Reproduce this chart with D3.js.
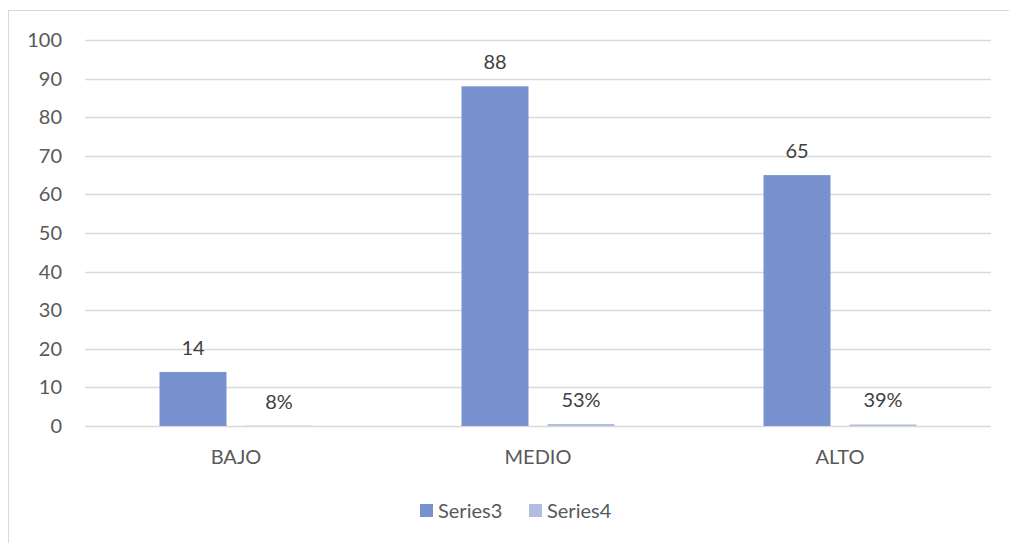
<!DOCTYPE html>
<html>
<head>
<meta charset="utf-8">
<script src="https://cdn.jsdelivr.net/npm/d3@7"></script>
<style>
  html, body { margin: 0; padding: 0; background: #fff; }
  svg { display: block; }
  text { font-family: Lato, "Open Sans", sans-serif; }
</style>
</head>
<body>
<svg id="chart" width="1009" height="543"></svg>
<script>
// Chart data
const categories = ["BAJO", "MEDIO", "ALTO"];
const series3 = [14, 88, 65];
const series4 = [0.08, 0.53, 0.39];
const series4Labels = ["8%", "53%", "39%"];
const yTicks = [0, 10, 20, 30, 40, 50, 60, 70, 80, 90, 100];
const seriesNames = ["Series3", "Series4"];
const colors = ["#7892d0", "#b1bde3"];

const svg = d3.select("#chart");
const W = 1009, H = 543;
const FS = 20;

// Outer chart frame
svg.append("rect")
  .attr("x", 8.5).attr("y", 10.5)
  .attr("width", W + 10).attr("height", H + 10)
  .attr("fill", "#fff").attr("stroke", "#d9d9d9").attr("stroke-width", 1);

const plot = { left: 85, right: 991, top: 40, bottom: 426 };

const x = d3.scaleBand().domain(categories).range([plot.left, plot.right]);
const y = d3.scaleLinear().domain([0, 100]).range([plot.bottom, plot.top]);

// Bars within each category: two bars with a small gap, centred in the band
const bw = x.bandwidth();
const barW = 67;
const innerGap = 19;
const groupW = barW * 2 + innerGap;
const sub = d3.scaleOrdinal().domain([0, 1])
  .range([(bw - groupW) / 2, (bw - groupW) / 2 + barW + innerGap]);

// Gridlines
svg.append("g")
  .selectAll("line")
  .data(yTicks)
  .join("line")
  .attr("x1", plot.left).attr("x2", plot.right)
  .attr("y1", d => Math.round(y(d)) + 0.5)
  .attr("y2", d => Math.round(y(d)) + 0.5)
  .attr("stroke", "#d9d9d9").attr("stroke-width", 1.3);

// Y axis labels
const yAxis = d3.axisLeft(y).tickValues(yTicks).tickSize(0).tickPadding(0);
const gy = svg.append("g").attr("transform", `translate(62,0)`).call(yAxis);
gy.select(".domain").remove();
gy.selectAll("text")
  .attr("fill", "#595959").attr("font-size", FS)
  .attr("font-family", "Lato, 'Open Sans', sans-serif");

// X axis labels
const xAxis = d3.axisBottom(x).tickSize(0).tickPadding(0);
const gx = svg.append("g").attr("transform", `translate(0,${plot.bottom + 22})`).call(xAxis);
gx.select(".domain").remove();
gx.selectAll("text")
  .attr("dy", null).attr("y", 16)
  .attr("fill", "#595959").attr("font-size", FS)
  .attr("font-family", "Lato, 'Open Sans', sans-serif");

// Series bars
const allSeries = [series3, series4];
allSeries.forEach((vals, si) => {
  svg.append("g").selectAll("rect")
    .data(vals)
    .join("rect")
    .attr("x", (d, i) => x(categories[i]) + sub(si))
    .attr("width", barW)
    .attr("y", d => y(d))
    .attr("height", d => y(0) - y(d))
    .attr("fill", colors[si]);
});

// Data labels
svg.append("g").selectAll("text")
  .data(series3)
  .join("text")
  .attr("x", (d, i) => x(categories[i]) + sub(0) + barW / 2)
  .attr("y", d => y(d) - 17)
  .attr("text-anchor", "middle")
  .attr("fill", "#404040").attr("font-size", FS)
  .text(d => d);

svg.append("g").selectAll("text")
  .data(series4)
  .join("text")
  .attr("x", (d, i) => x(categories[i]) + sub(1) + barW / 2)
  .attr("y", d => y(d) - 17)
  .attr("text-anchor", "middle")
  .attr("fill", "#404040").attr("font-size", FS)
  .text((d, i) => series4Labels[i]);

// Legend
const legendItems = [
  { name: seriesNames[0], color: colors[0], x: 420 },
  { name: seriesNames[1], color: colors[1], x: 529 }
];
const lg = svg.append("g");
legendItems.forEach(it => {
  lg.append("rect").attr("x", it.x).attr("y", 504)
    .attr("width", 13).attr("height", 13).attr("fill", it.color);
  lg.append("text").attr("x", it.x + 18).attr("y", 518)
    .attr("fill", "#595959").attr("font-size", FS).text(it.name);
});
</script>
</body>
</html>
